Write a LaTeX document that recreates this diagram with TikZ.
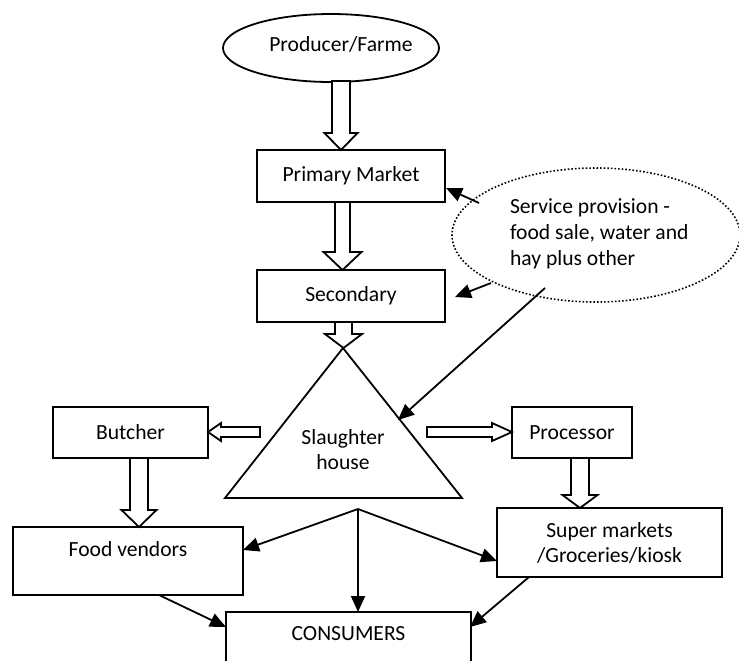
\documentclass[tikz,border=0pt]{standalone}
\usepackage{fontspec}
\setmainfont{Carlito}
\usetikzlibrary{shapes.geometric,arrows.meta}
\newcommand{\bdown}[6]{%
\draw[blk] ({#1-#4},#2) -- ({#1-#4},{#3-#6}) -- ({#1-#5},{#3-#6}) -- (#1,#3) -- ({#1+#5},{#3-#6}) -- ({#1+#4},{#3-#6}) -- ({#1+#4},#2) -- cycle;}
\begin{document}
\begin{tikzpicture}[x=0.5pt,y=-0.5pt,
  every node/.style={font=\fontsize{10.8pt}{12.5pt}\selectfont},
  box/.style={draw,line width=0.9pt,inner sep=0pt,align=center},
  conn/.style={line width=0.9pt,-{Triangle[length=8pt,width=7pt]}},
  blk/.style={draw,line width=0.9pt,fill=white,line join=miter}]
\useasboundingbox (0,0) rectangle (739,660);
% nodes
\node[ellipse,draw,line width=0.9pt,minimum width=108pt,minimum height=34pt,inner sep=0pt] (prod) at (331,48) {};
\node (prodt) at (341,44) {Producer/Farme};
\node[box,minimum width=94pt,minimum height=26pt] (prim) at (351,176) {Primary Market};
\node[box,minimum width=94pt,minimum height=26pt] (sec) at (351,296) {Secondary};
\node[ellipse,draw,densely dotted,line width=0.8pt,minimum width=144pt,minimum height=67pt,inner sep=0pt] (svc) at (596,235) {};
\node[align=left,anchor=west,font=\fontsize{10.8pt}{13pt}\selectfont] (svct) at (503,234) {Service provision -\\food sale, water and\\hay plus other};
\coordinate (apex) at (343,348);
\coordinate (bl) at (225,498);
\coordinate (brt) at (462,498);
\draw[line width=0.9pt,line join=miter] (apex) -- (brt) -- (bl) -- cycle;
\node[align=center] (sh) at (343,450) {Slaughter\\house};
\node[box,minimum width=77.5pt,minimum height=25.5pt] (but) at (130.5,432.5) {Butcher};
\node[box,minimum width=60pt,minimum height=25.5pt] (proc) at (572,432.5) {Processor};
\node[box,minimum width=115pt,minimum height=34pt] (fv) at (128,561) {Food vendors\\\mbox{}};
\node[box,minimum width=112.5pt,minimum height=34.5pt] (sup) at (609.5,542.5) {Super markets\\/Groceries/kiosk};
\node[box,minimum width=122.5pt,minimum height=34pt] (con) at (348.5,646) {CONSUMERS\\\mbox{}};
% block arrows
\bdown{341}{81}{150}{9}{16.5}{17}
\bdown{342.5}{202}{270}{7.5}{19}{18}
\bdown{343.5}{322}{348}{8.5}{18.5}{14}
\bdown{139}{458}{527}{9}{17.5}{17}
\bdown{580}{458}{508}{9}{17.5}{13}
\draw[blk] (260,427) -- (221,427) -- (221,423) -- (208,432) -- (221,441) -- (221,437) -- (260,437) -- cycle;
\draw[blk] (427,427) -- (492,427) -- (492,423) -- (512,432) -- (492,441) -- (492,437) -- (427,437) -- cycle;
% line arrows
\coordinate (s1) at (479,203);
\coordinate (s2) at (491,283);
\coordinate (s3) at (545,288);
\coordinate (p1) at (446,188);
\coordinate (p2) at (455,297);
\coordinate (p3) at (398,420);
\draw[conn] (s1) -- (p1);
\draw[conn] (s2) -- (p2);
\draw[conn] (s3) -- (p3);
\coordinate (br) at (358,509);
\coordinate (fvin) at (243,550);
\coordinate (supin) at (497,561);
\coordinate (conin) at (358,612);
\draw[conn] (br) -- (fvin);
\draw[conn] (br) -- (conin);
\draw[conn] (br) -- (supin);
\coordinate (fvout) at (159,595);
\coordinate (conl) at (226,627);
\coordinate (supout) at (529,577);
\coordinate (conr) at (470,627);
\draw[conn] (fvout) -- (conl);
\draw[conn] (supout) -- (conr);
\end{tikzpicture}
\end{document}
